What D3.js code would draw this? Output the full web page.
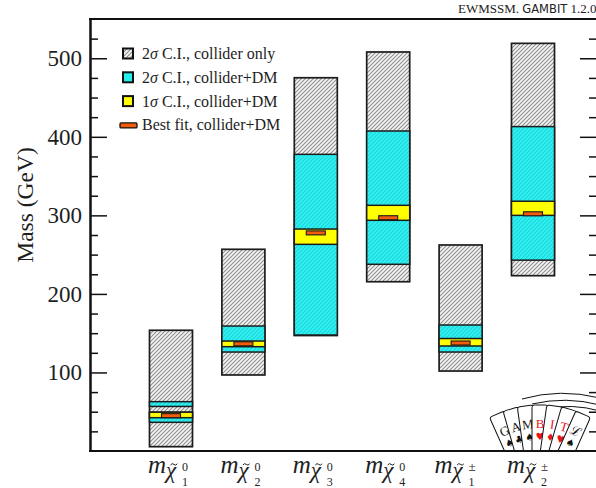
<!DOCTYPE html>
<html><head><meta charset="utf-8">
<script src="https://cdn.jsdelivr.net/npm/d3@7"></script>
<style>body{margin:0;background:#fff}svg{display:block}</style>
</head><body><div id="chart"></div>
<script>
// ---- data ----
const categories = ["chi1_0","chi2_0","chi3_0","chi4_0","chi1_pm","chi2_pm"];
const labelSup = ["0","0","0","0","±","±"];
const labelSub = ["1","2","3","4","1","2"];
const colliderLow  = [5.5, 96.8, 147, 215.5, 101.8, 223.2];
const colliderHigh = [153.7, 256.8, 475.2, 508, 262.3, 519];
const dm2Intervals = [[[36.5,49.4],[56.7,62.8]], [[126.0,159.1]], [[147.7,377.7]], [[237.7,407.4]], [[126.0,160.4]], [[243,413]]];
const dm1Intervals = [[[42.4,49.4]], [[132.8,140.0]], [[263.1,282.6]], [[293.7,312.8]], [[133.7,143.2]], [[300,318]]];
const bestFit = [45, 136.5, 277.7, 297, 137.5, 302];
const majorTicks = [100,200,300,400,500];
const minorTicks = [25,50,75,125,150,175,225,250,275,325,350,375,425,450,475,525];
const legendLabels = ["2σ C.I., collider only","2σ C.I., collider+DM","1σ C.I., collider+DM","Best fit, collider+DM"];
const cardLetters = ["G","A","M","B","I","T","ℒ"];
const cardSuits = ["♠","♣","♠","♥","♦","♥","♠"];
const cardRed = [false,false,false,true,true,true,false];
const cardAngles = [-24,-16,-8,0,8,16,24];

// ---- chart ----
const W = 596, H = 488;
const serif = "'Liberation Serif','Times New Roman',serif";
const ink = "#1e1e1e";
const svg = d3.select("#chart").append("svg").attr("width",W).attr("height",H);
const defs = svg.append("defs");
function mkPattern(id, bg, fg){
  const p = defs.append("pattern").attr("id",id).attr("patternUnits","userSpaceOnUse").attr("width",4).attr("height",4);
  p.append("rect").attr("width",4).attr("height",4).attr("fill",bg);
  p.append("path").attr("d","M-1,1 l2,-2 M0,4 l4,-4 M3,5 l2,-2").attr("stroke",fg).attr("stroke-width",1.1);
}
mkPattern("hatch","#f6f6f6","#8e8e8e");
mkPattern("cyanh","#30f2f2","#1ed4d8");

const y = d3.scaleLinear().domain([0,550]).range([451,19]);
const x = d3.scalePoint().domain(categories).range([171,533]);
const bw = 43;
const stroke = "#1c1c1c";

// bars
const bars = svg.append("g");
categories.forEach((c,i)=>{
  const g = bars.append("g");
  g.append("rect").attr("x",x(c)-bw/2).attr("width",bw)
    .attr("y",y(colliderHigh[i])).attr("height",y(colliderLow[i])-y(colliderHigh[i]))
    .attr("fill","url(#hatch)").attr("stroke",stroke).attr("stroke-width",1.7);
  dm2Intervals[i].forEach(iv=>{
    g.append("rect").attr("x",x(c)-bw/2).attr("width",bw)
      .attr("y",y(iv[1])).attr("height",y(iv[0])-y(iv[1]))
      .attr("fill","url(#cyanh)").attr("stroke",stroke).attr("stroke-width",1.5);
  });
  dm1Intervals[i].forEach(iv=>{
    g.append("rect").attr("x",x(c)-bw/2).attr("width",bw)
      .attr("y",y(iv[1])).attr("height",y(iv[0])-y(iv[1]))
      .attr("fill","#ffff00").attr("stroke",stroke).attr("stroke-width",1.5);
  });
  g.append("rect").attr("x",x(c)-9.5).attr("width",19)
    .attr("y",y(bestFit[i])-2).attr("height",4)
    .attr("fill","#f25c0a").attr("stroke",stroke).attr("stroke-width",1.1);
});

// axes
const axL = svg.append("g").attr("transform","translate(90,0)")
  .call(d3.axisLeft(y).tickValues(majorTicks).tickSize(-17).tickSizeOuter(0).tickPadding(8).tickFormat(d3.format("d")));
const axLm = svg.append("g").attr("transform","translate(90,0)")
  .call(d3.axisLeft(y).tickValues(minorTicks).tickSize(-8).tickSizeOuter(0).tickFormat(""));
const axR = svg.append("g").attr("transform","translate(597,0)")
  .call(d3.axisLeft(y).tickValues(majorTicks).tickSize(17).tickSizeOuter(0).tickFormat(""));
const axRm = svg.append("g").attr("transform","translate(597,0)")
  .call(d3.axisLeft(y).tickValues(minorTicks).tickSize(8).tickSizeOuter(0).tickFormat(""));
[axL,axLm,axR,axRm].forEach(a=>{
  a.select(".domain").attr("stroke","#111").attr("stroke-width",2);
  a.selectAll(".tick line").attr("stroke","#111").attr("stroke-width",1.5);
});
axL.selectAll(".tick text").attr("font-family",serif).attr("font-size",23).attr("fill",ink);
svg.append("line").attr("x1",89).attr("x2",598).attr("y1",y(550)).attr("y2",y(550)).attr("stroke","#111").attr("stroke-width",2);
svg.append("line").attr("x1",89).attr("x2",598).attr("y1",y(0)).attr("y2",y(0)).attr("stroke","#111").attr("stroke-width",2);

// y title
svg.append("text").attr("transform","translate(33,205) rotate(-90)").attr("text-anchor","middle")
  .attr("font-family",serif).attr("font-size",23.5).attr("fill",ink).text("Mass (GeV)");

// x labels: one text element per label, parts placed with tspans
categories.forEach((c,i)=>{
  const cx = x(c), by = 473;
  const pm = labelSup[i]==="±";
  const off = pm ? -3 : 0;
  const t = svg.append("text").attr("font-family",serif).attr("fill",ink);
  t.append("tspan").attr("x",cx-23+off).attr("y",by).attr("font-style","italic").attr("font-size",25).text("m");
  t.append("tspan").attr("x",cx-5+off).attr("y",by+5).attr("font-style","italic").attr("font-size",23).text("χ");
  t.append("tspan").attr("x",cx+11+off).attr("y",by-2).attr("font-size",pm?13:12).text(labelSup[i]);
  t.append("tspan").attr("x",cx+11+off).attr("y",by+12.5).attr("font-size",12).text(labelSub[i]);
  svg.append("path").attr("d",`M${cx-0.5+off},${by-8} q1.7,-2.4 3.4,-0.6 t3.4,-0.6`)
    .attr("fill","none").attr("stroke",ink).attr("stroke-width",1);
});

// legend
const lg = svg.append("g").attr("font-family",serif).attr("font-size",16).attr("fill",ink);
const fills = ["url(#hatch)","#22eeee","#ffff00"];
legendLabels.forEach((t,i)=>{
  const cy = 54 + i*23.8;
  if(i<3){
    lg.append("rect").attr("x",123).attr("y",cy-5.5).attr("width",10).attr("height",10)
      .attr("fill",fills[i]).attr("stroke","#111").attr("stroke-width",2);
  } else {
    lg.append("rect").attr("x",120).attr("y",cy-2.5).attr("width",17).attr("height",5).attr("rx",1)
      .attr("fill","#f25c0a").attr("stroke","#111").attr("stroke-width",1.3);
  }
  const tx = lg.append("text").attr("x",142).attr("y",cy+5);
  const parts = t.split("σ");
  tx.append("tspan").text(parts[0]);
  if(parts.length>1){ tx.append("tspan").attr("font-style","italic").text("σ"); tx.append("tspan").text(parts[1]); }
});

// header text
const hd = svg.append("text").attr("x",458).attr("y",13).attr("font-size",13).attr("fill","#222");
hd.append("tspan").attr("font-family",serif).text("EWMSSM. ");
hd.append("tspan").attr("font-family","'DejaVu Sans',sans-serif").attr("font-size",11.5).text("GAMBIT");
hd.append("tspan").attr("font-family",serif).text(" 1.2.0");

// GAMBIT logo (decoration)
defs.append("clipPath").attr("id","logoclip").append("rect").attr("x",480).attr("y",380).attr("width",130).attr("height",70);
const logo = svg.append("g").attr("clip-path","url(#logoclip)");
logo.append("path").attr("d","M522,399 Q560,388 600,398").attr("fill","none").attr("stroke","#111").attr("stroke-width",1);
logo.append("path").attr("d","M532,404 Q566,396 600,405").attr("fill","none").attr("stroke","#111").attr("stroke-width",1);
logo.append("path").attr("d","M545,409 Q572,403 600,411").attr("fill","none").attr("stroke","#111").attr("stroke-width",1);
cardLetters.forEach((L,i)=>{
  const g = logo.append("g").attr("transform",`translate(540,511) rotate(${cardAngles[i]})`);
  g.append("rect").attr("x",-8).attr("y",-106).attr("width",16).attr("height",56).attr("rx",2.5)
    .attr("fill","#fff").attr("stroke","#111").attr("stroke-width",1);
  g.append("text").attr("x",0).attr("y",-83).attr("text-anchor","middle").attr("font-family",serif)
    .attr("font-size",13).attr("fill",cardRed[i]?"#e8141b":"#111").text(L);
  g.append("text").attr("x",0).attr("y",-71).attr("text-anchor","middle").attr("font-family","'DejaVu Sans',sans-serif")
    .attr("font-size",10).attr("fill",cardRed[i]?"#e8141b":"#111").text(cardSuits[i]);
});
</script></body></html>
